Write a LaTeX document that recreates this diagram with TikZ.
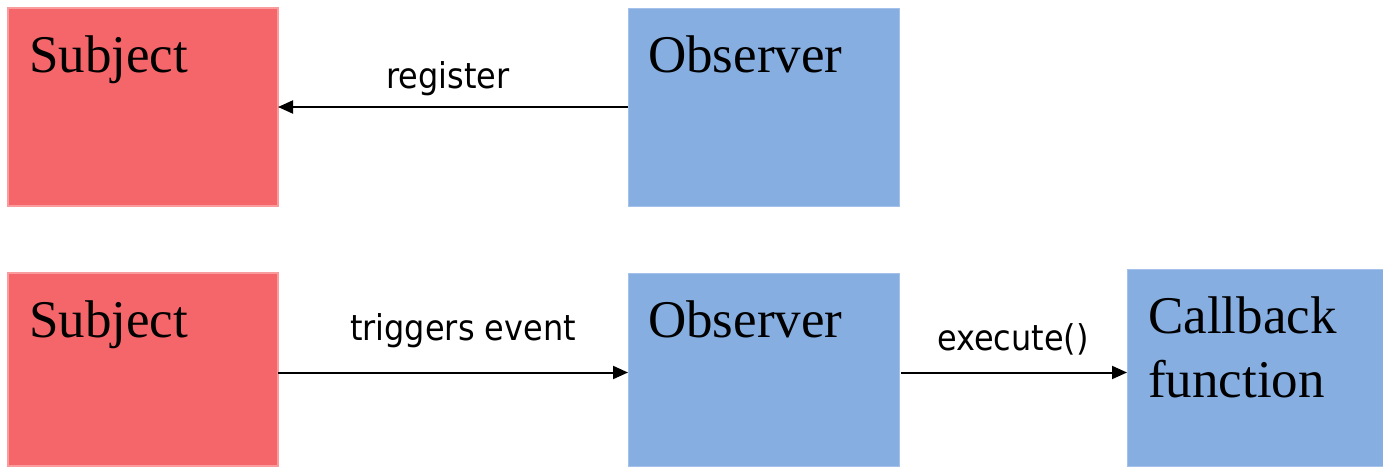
\documentclass[tikz,border=0pt]{standalone}
\usepackage{fontspec}
\setmainfont{Liberation Serif}
\newfontfamily\labfont[FakeStretch=0.9]{DejaVu Sans}
\usetikzlibrary{arrows.meta}
\definecolor{subjred}{HTML}{F4666A}
\definecolor{subjedge}{HTML}{FA9C9E}
\definecolor{obsblue}{HTML}{86AEE0}
\definecolor{obsedge}{HTML}{A3C1EA}
\tikzset{
  boxbase/.style={rectangle, anchor=north west, inner sep=0pt, outer sep=0pt, line width=1.5pt},
  redbox/.style={boxbase, fill=subjred, draw=subjedge},
  bluebox/.style={boxbase, fill=obsblue, draw=obsedge, line width=0.8pt},
  boxtext/.style={anchor=base west, inner sep=0pt, font=\fontsize{53}{64}\selectfont, align=left},
  conn/.style={line width=2pt, -{Triangle[length=15pt,width=13pt]}},
  lab/.style={anchor=base, inner sep=0pt, font=\labfont\fontsize{35.5}{40}\selectfont}
}
\begin{document}
\begin{tikzpicture}[x=1pt,y=-1pt]
\useasboundingbox[fill=white] (0,0) rectangle (1383,466);
% top row
\node[redbox, minimum width=270pt, minimum height=198pt] (subj1) at (8,8) {};
\node[bluebox, minimum width=271pt, minimum height=198pt] (obs1) at (628,8) {};
\node[boxtext] (subj1t) at (29,72) {Subject};
\node[boxtext] (obs1t) at (648,72) {Observer};
% bottom row
\node[redbox, minimum width=270pt, minimum height=193pt] (subj2) at (8,273) {};
\node[bluebox, minimum width=271pt, minimum height=193pt] (obs2) at (628,273) {};
\node[bluebox, minimum width=258pt, minimum height=197pt] (cb) at (1127,269) {};
\node[boxtext] (subj2t) at (29,337) {Subject};
\node[boxtext] (obs2t) at (648,337) {Observer};
\node[boxtext] (cbt1) at (1148,333) {Callback};
\node[boxtext] (cbt2) at (1148,397) {function};
% connectors
\draw[conn] (obs1.west) -- (subj1.east);
\node[lab] (reglab) at (448,88) {register};
\draw[conn] ([yshift=-3pt]subj2.east) -- ([yshift=-3pt]obs2.west);
\node[lab] (trilab) at (463,340) {triggers event};
\draw[conn] ([yshift=-3pt,xshift=2pt]obs2.east) -- ([yshift=-5pt]cb.west);
\node[lab] (exlab) at (1013,350) {execute()};
\end{tikzpicture}
\end{document}
